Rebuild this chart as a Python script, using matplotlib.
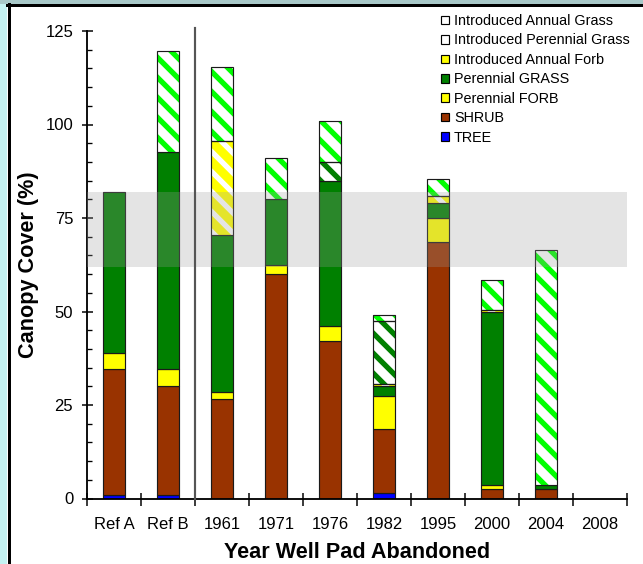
import matplotlib
matplotlib.use("Agg")
import matplotlib.pyplot as plt
from matplotlib.patches import Patch, Rectangle
from matplotlib.lines import Line2D
import numpy as np

plt.rcParams['font.family'] = ['Liberation Sans', 'DejaVu Sans']
plt.rcParams['hatch.linewidth'] = 3.2

categories = ['Ref A', 'Ref B', '1961', '1971', '1976', '1982', '1995', '2000', '2004', '2008']
tree = [1, 1, 0, 0, 0, 1.5, 0, 0, 0, 0]
shrub = [33.5, 29, 26.5, 60, 42, 17, 68.5, 2.5, 2.5, 0]
perennial_forb = [4.5, 4.5, 2, 2.5, 4, 9, 6.5, 1, 0, 0]
perennial_grass = [43, 58.2, 42, 17.5, 39, 2.5, 4, 46.5, 1, 0]
intro_annual_forb = [0, 0, 25, 0, 0, 0.5, 2, 0.5, 0, 0]
intro_perennial_grass = [0, 0, 0, 0, 5, 17, 0, 0, 0, 0]
intro_annual_grass = [0, 27, 20, 11, 11, 1.5, 4.5, 8, 63, 0]
band_low, band_high = 62, 82
y_ticks = [0, 25, 50, 75, 100, 125]

DPI = 120
fig = plt.figure(figsize=(643 / DPI, 564 / DPI), dpi=DPI)
fig.patch.set_facecolor('white')
ax = fig.add_axes([87 / 643, 1 - 498.5 / 564, 540 / 643, 467.5 / 564])
ax.set_facecolor('white')

x = np.arange(len(categories))
w = 0.41
edge = '#1a1a1a'
elw = 0.7
HATCH = '\\\\'

layers = [
    (tree, '#0000FF', None, None),
    (shrub, '#993300', None, None),
    (perennial_forb, '#FFFF00', None, None),
    (perennial_grass, '#008000', None, None),
    (intro_annual_forb, '#FFFF00', '#FFFFFF', HATCH),
    (intro_perennial_grass, '#FFFFFF', '#008000', HATCH),
    (intro_annual_grass, '#FFFFFF', '#00FF00', HATCH),
]
bottom = np.zeros(len(categories))
for vals, face, hcol, hatch in layers:
    vals = np.array(vals, dtype=float)
    mask = vals > 0
    if hatch is None:
        ax.bar(x[mask], vals[mask], w, bottom=bottom[mask], color=face,
               edgecolor=edge, linewidth=elw, zorder=2)
    else:
        ax.bar(x[mask], vals[mask], w, bottom=bottom[mask], facecolor=face,
               edgecolor=hcol, hatch=hatch, linewidth=0, zorder=2)
        ax.bar(x[mask], vals[mask], w, bottom=bottom[mask], facecolor='none',
               edgecolor=edge, linewidth=elw, zorder=2.1)
    bottom = bottom + vals

ax.axhspan(band_low, band_high, color='#9c9c9c', alpha=0.27, lw=0, zorder=3)

ax.plot([1.5, 1.5], [0, 125.8], color='#555555', lw=1.3, clip_on=False, zorder=4)

ax.set_xlim(-0.5, len(categories) - 0.5)
ax.set_ylim(0, 125)
ax.spines['top'].set_visible(False)
ax.spines['right'].set_visible(False)
for s in ['left', 'bottom']:
    ax.spines[s].set_linewidth(1.1)
    ax.spines[s].set_color('black')

ax.set_xticks(np.arange(-0.5, len(categories), 1.0))
ax.set_xticklabels([])
ax.set_xticks(x, minor=True)
ax.set_xticklabels(categories, minor=True, fontsize=10)
ax.tick_params(axis='x', which='major', direction='inout', length=7.8, width=0.9)
ax.tick_params(axis='x', which='minor', length=0, pad=11)

ax.set_yticks(y_ticks)
ax.set_yticklabels([str(v) for v in y_ticks], fontsize=10)
ax.set_yticks(np.arange(0, 126, 5), minor=True)
ax.tick_params(axis='y', which='major', direction='inout', length=6.6, width=0.9, pad=5)
ax.tick_params(axis='y', which='minor', direction='in', length=3, width=0.8)

ax.set_xlabel('Year Well Pad Abandoned', fontsize=13, fontweight='bold', labelpad=6)
ax.set_ylabel('Canopy Cover (%)', fontsize=13, fontweight='bold', labelpad=4)

legend_labels = ['Introduced Annual Grass', 'Introduced Perennial Grass', 'Introduced Annual Forb',
                 'Perennial GRASS', 'Perennial FORB', 'SHRUB', 'TREE']
legend_colors = ['#FFFFFF', '#FFFFFF', '#FFFF00', '#008000', '#FFFF00', '#993300', '#0000FF']
handles = [Patch(facecolor=c, edgecolor='black', linewidth=0.7) for c in legend_colors]
fig.legend(handles, legend_labels, loc='upper left', bbox_to_anchor=(441 / 643, 1 - 14 / 564),
           frameon=False, fontsize=8.6, handlelength=0.55, handleheight=0.55,
           handletextpad=0.35, labelspacing=0.38, borderpad=0, borderaxespad=0)

# decorative frame
fig.add_artist(Rectangle((0, 0), 7 / 643, 1, transform=fig.transFigure,
                         facecolor='#c4f2f2', edgecolor='none', zorder=0))
fig.add_artist(Rectangle((0, 1 - 3.5 / 564), 1, 3.5 / 564, transform=fig.transFigure,
                         facecolor='#a8c8c8', edgecolor='none', zorder=0))
fig.add_artist(Line2D([8.5 / 643, 8.5 / 643], [0, 1 - 3.5 / 564], transform=fig.transFigure,
                      color='black', lw=1.8))
fig.add_artist(Line2D([7 / 643, 1], [1 - 5 / 564, 1 - 5 / 564], transform=fig.transFigure,
                      color='black', lw=1.8))

fig.savefig('out.png', dpi=DPI)
